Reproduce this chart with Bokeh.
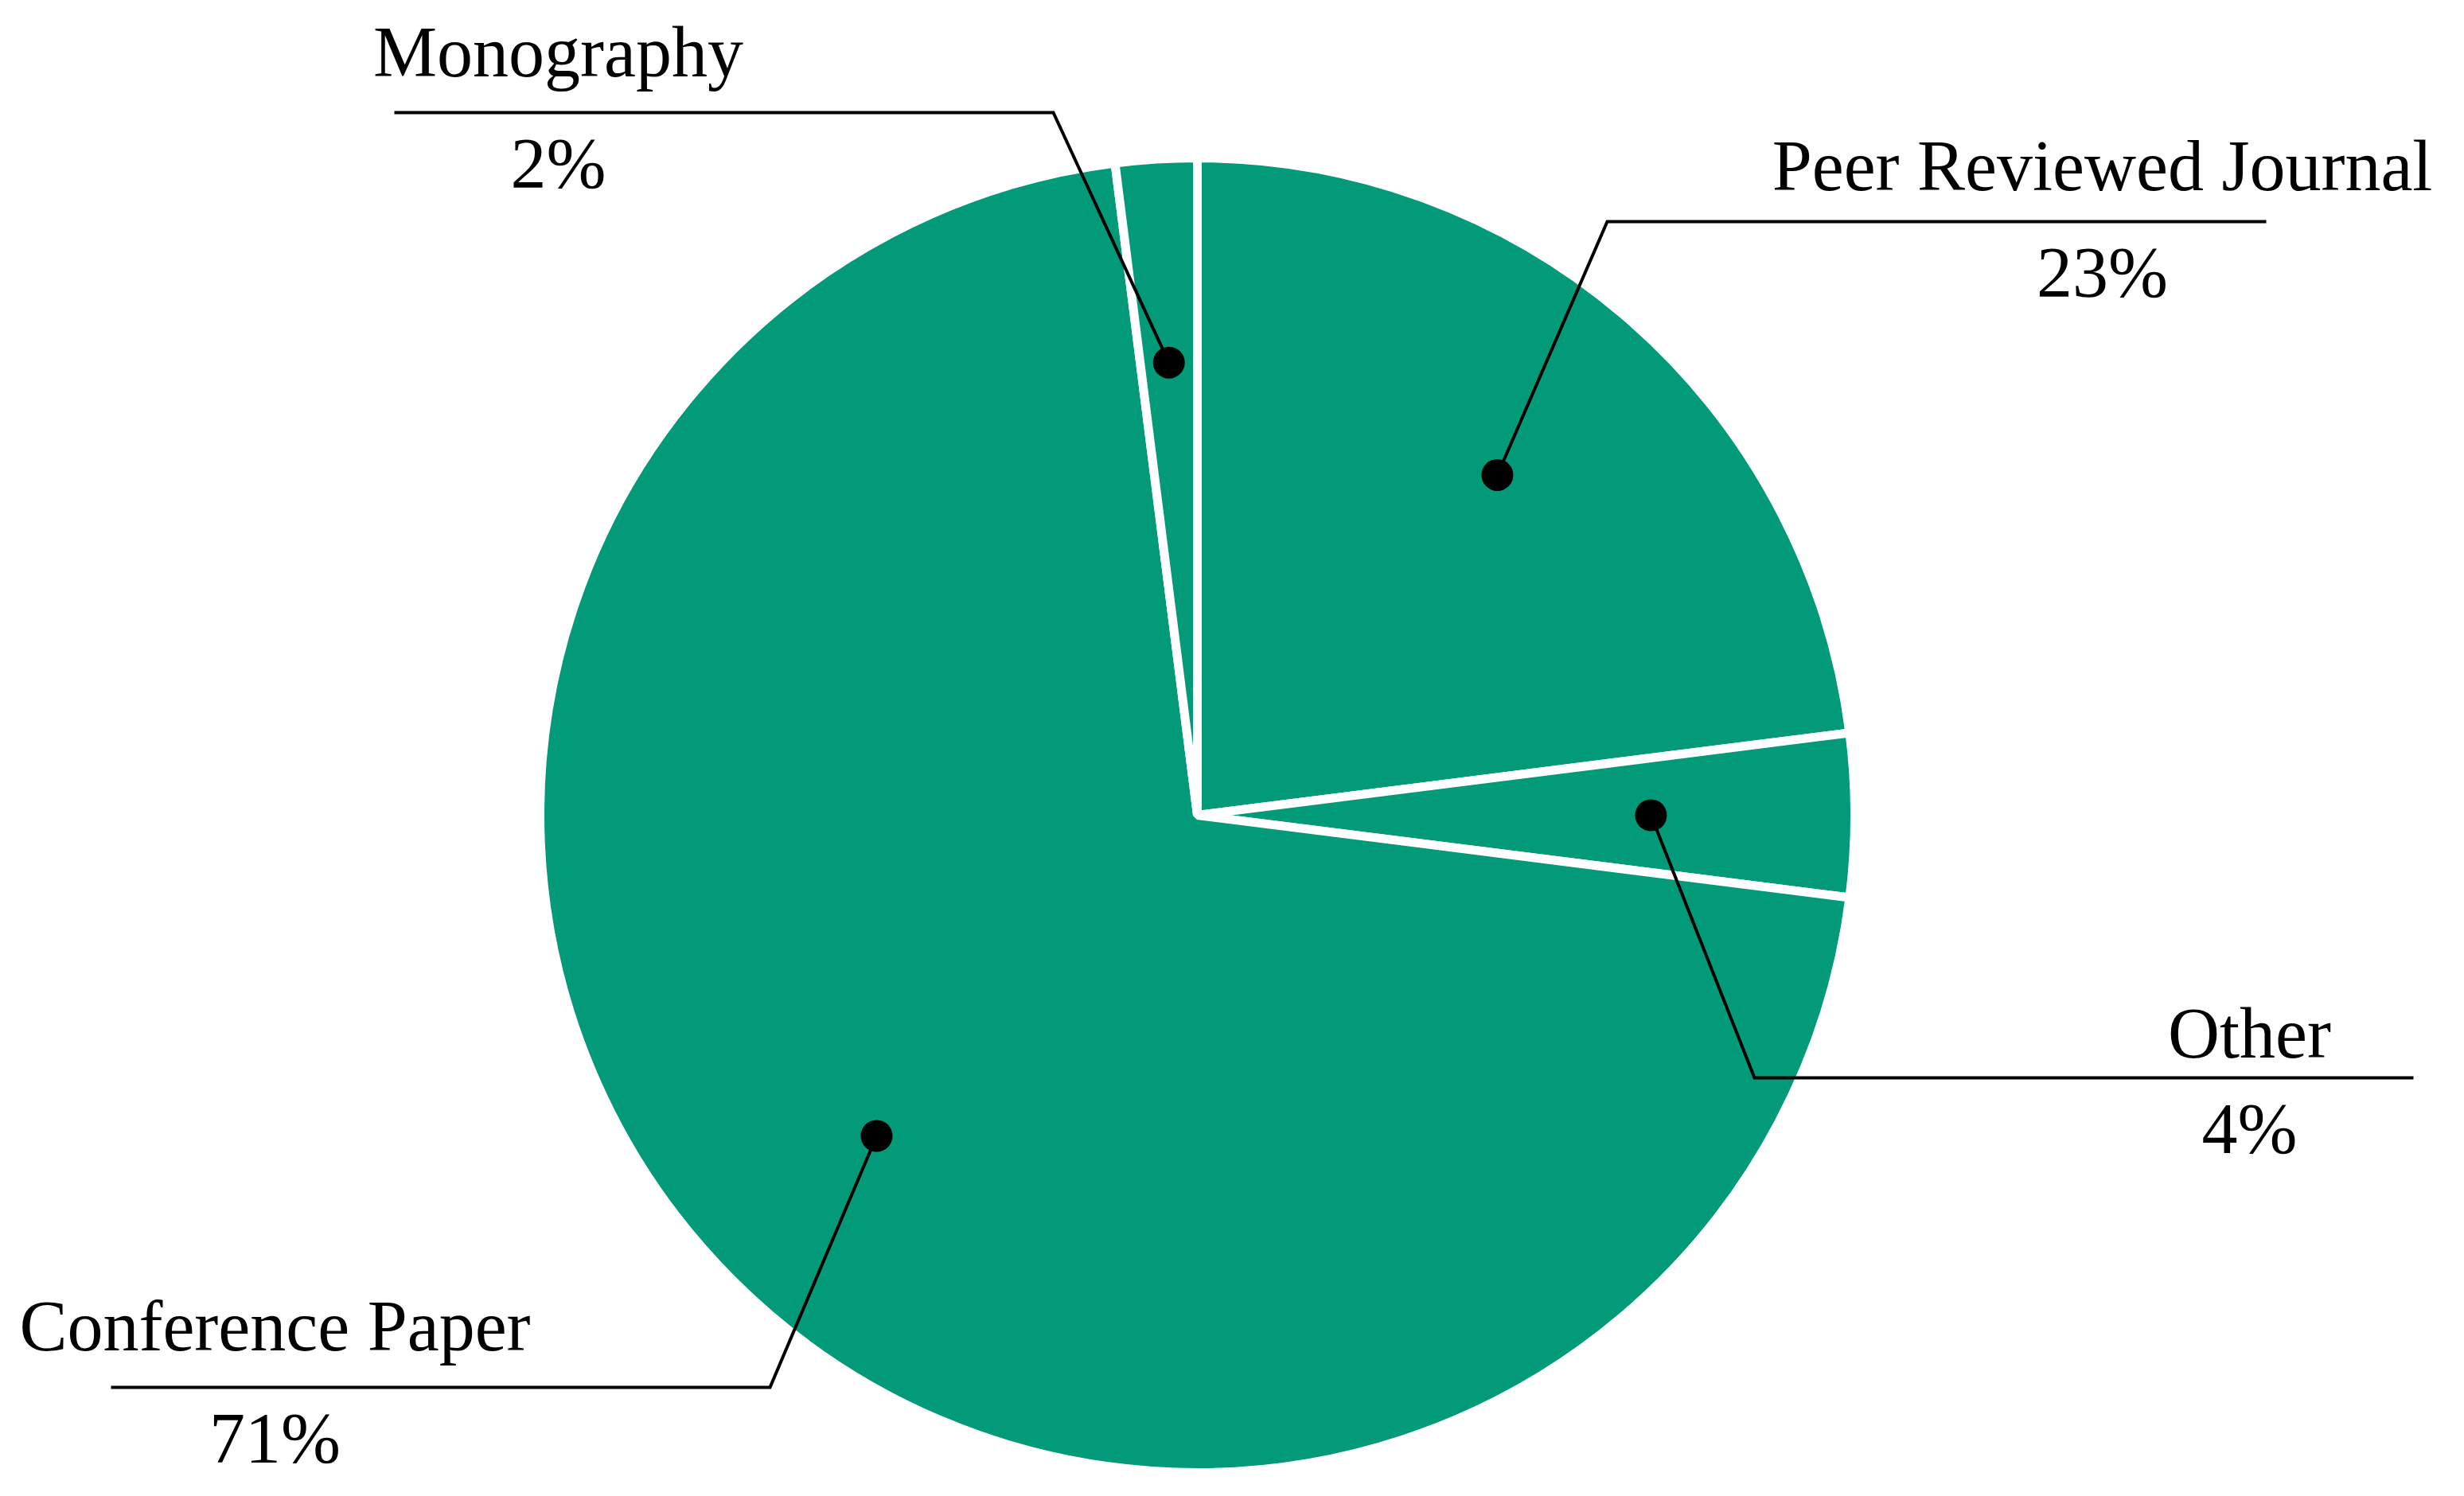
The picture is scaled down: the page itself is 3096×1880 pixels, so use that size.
import numpy as np
from bokeh.core.properties import value
from bokeh.embed import file_html
from bokeh.models import ColumnDataSource, Range1d
from bokeh.plotting import figure
from bokeh.resources import INLINE

# data, clockwise from 12 o'clock
categories = ["Peer Reviewed Journal", "Other", "Conference Paper", "Monography"]
shares = [23, 4, 71, 2]
pct_labels = ["23%", "4%", "71%", "2%"]

# page is drawn in screen pixels (y flipped so that up is positive)
PAGE_W, PAGE_H = 3096, 1880
W, H = 3080, 1864
CX, CY = 1512, PAGE_H - 1032
R = 826
GREEN = "#029a78"
FONT = "Liberation Serif"

# label callout layout: elbow of the leader line (screen px)
elbow_x = [2027, 2212, 975, 1331]
elbow_y = [286, 1362, 1751, 149]
name_baseline = [240, 1330, 1698, 97]
LINE_LEN = 828
TEXT_INSET = 206
PCT_DROP = 88
TEXT_SHIFT = 24  # svg text sits a bit low, pull it up

vals = np.array(shares, dtype=float)
cum = np.cumsum(vals) / vals.sum()
start = np.pi / 2 - (cum - vals / vals.sum()) * 2 * np.pi
end = np.pi / 2 - cum * 2 * np.pi
mid = (start + end) / 2

pie = ColumnDataSource(dict(cat=categories, start=start, end=end))

p = figure(
    width=W,
    height=H,
    x_range=Range1d(8, 8 + W),
    y_range=Range1d(8, 8 + H),
    min_border=0,
    toolbar_location=None,
    output_backend="svg",
)
p.axis.visible = False
p.grid.grid_line_color = None
p.outline_line_color = None
p.background_fill_color = "white"

p.wedge(
    x=CX, y=CY, radius=R,
    start_angle="start", end_angle="end", direction="clock",
    source=pie,
    fill_color=GREEN, line_color="white", line_width=11,
)

# leader lines and dots
dot_x = CX + 0.69 * R * np.cos(mid)
dot_y = CY + 0.69 * R * np.sin(mid)
side = np.sign(np.cos(mid))
side[side == 0] = 1

xs, ys = [], []
name_x, pct_y, name_y = [], [], []
for i in range(len(categories)):
    ex, ey = elbow_x[i], PAGE_H - elbow_y[i]
    outer = ex + side[i] * LINE_LEN
    xs.append([dot_x[i], ex, outer])
    ys.append([dot_y[i], ey, ey])
    name_x.append(outer - side[i] * TEXT_INSET)
    name_y.append(PAGE_H - name_baseline[i] + TEXT_SHIFT)
    pct_y.append(PAGE_H - (elbow_y[i] + PCT_DROP) + TEXT_SHIFT)

p.multi_line(xs=xs, ys=ys, line_color="black", line_width=4, line_join="miter")
p.scatter(x=dot_x, y=dot_y, size=40, fill_color="black", line_color=None)

labels = ColumnDataSource(dict(x=name_x, y=name_y, pct_y=pct_y, name=categories, pct=pct_labels))
p.text(
    x="x", y="y", text="name", source=labels,
    text_font=value(FONT), text_font_size=value("90px"),
    text_align="center", text_baseline="alphabetic", text_color="black",
)
p.text(
    x="x", y="pct_y", text="pct", source=labels,
    text_font=value(FONT), text_font_size=value("90px"),
    text_align="center", text_baseline="alphabetic", text_color="black",
)

open("out.html", "w").write(file_html(p, INLINE))
